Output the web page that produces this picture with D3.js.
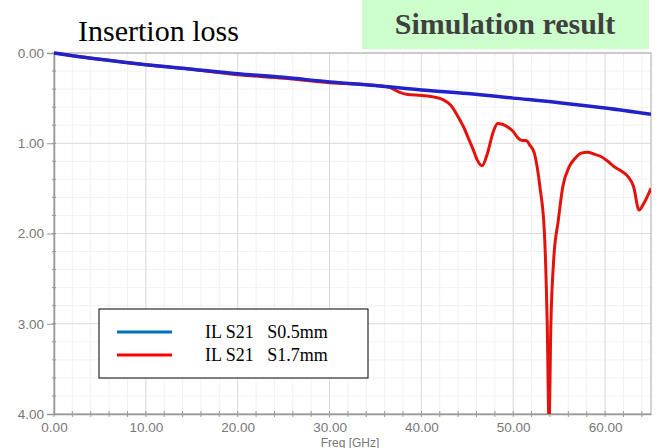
<!DOCTYPE html>
<html>
<head>
<meta charset="utf-8">
<script src="https://cdn.jsdelivr.net/npm/d3@7"></script>
<style>
  body { margin: 0; background: #fff; }
  svg { display: block; }
</style>
</head>
<body>
<svg id="chart" width="659" height="448"></svg>
<script>
// insertion loss (dB, shown as positive loss)
var freqBlue = [0, 2, 5, 10, 15, 20, 25, 30, 35, 40, 45, 50, 55, 60, 65];
var lossBlue = [0, 0.03, 0.07, 0.13, 0.18, 0.23, 0.27, 0.32, 0.36, 0.41, 0.45, 0.50, 0.55, 0.61, 0.68];

var freqRed = [0, 5, 10, 15, 20, 25, 30, 35, 36.5, 37.5, 38.5, 40, 41.5, 42.4, 43.2, 43.9, 44.6, 45.1, 45.6, 46.1, 46.6, 47.2, 47.8, 48.3, 48.8, 49.4, 50.0, 50.5, 51.0, 51.4, 51.8, 52.3, 52.9, 53.4, 53.7, 53.9, 54.1, 54.4, 54.9, 55.4, 56.1, 56.8, 57.4, 58.1, 58.8, 59.6, 60.3, 61.0, 61.8, 62.5, 63.1, 63.7, 64.2, 65];
var lossRed = [0, 0.07, 0.13, 0.18, 0.24, 0.28, 0.33, 0.36, 0.38, 0.43, 0.46, 0.47, 0.49, 0.52, 0.58, 0.69, 0.82, 0.94, 1.06, 1.19, 1.25, 1.11, 0.88, 0.78, 0.79, 0.82, 0.87, 0.94, 0.97, 0.97, 1.02, 1.11, 1.48, 2.0, 3.0, 4.1, 3.0, 2.3, 1.86, 1.48, 1.26, 1.16, 1.11, 1.10, 1.12, 1.15, 1.20, 1.26, 1.31, 1.37, 1.48, 1.74, 1.67, 1.50];

var xTicks = [0, 10, 20, 30, 40, 50, 60];
var yTicks = [0, 1, 2, 3, 4];
var legendLabels = ["IL S21   S0.5mm", "IL S21   S1.7mm"];

var svg = d3.select("#chart"),
    margin = { top: 53, right: 8, bottom: 34, left: 54 },
    width = +svg.attr("width") - margin.left - margin.right,
    height = +svg.attr("height") - margin.top - margin.bottom;

var x = d3.scaleLinear().domain([0, 65]).range([margin.left, margin.left + width]);
var y = d3.scaleLinear().domain([0, 4]).range([margin.top, margin.top + height]);

// banner
svg.append("rect").attr("x", 362).attr("y", 0).attr("width", 287).attr("height", 49).attr("fill", "#ccffcc");
svg.append("text").attr("x", 505).attr("y", 34).attr("text-anchor", "middle")
    .attr("font-family", "Liberation Serif").attr("font-weight", "bold").attr("font-size", 30)
    .attr("fill", "#404040").text("Simulation result");
svg.append("text").attr("x", 78).attr("y", 41)
    .attr("font-family", "Liberation Serif").attr("font-size", 30).attr("fill", "#000").text("Insertion loss");

// grid
var g = svg.append("g");
g.selectAll(".minx").data(d3.range(2, 65, 2)).enter().append("line")
    .attr("x1", x).attr("x2", x).attr("y1", y(0)).attr("y2", y(4))
    .attr("stroke", "#f1f1f1");
g.selectAll(".miny").data(d3.range(0.2, 4, 0.2)).enter().append("line")
    .attr("x1", x(0)).attr("x2", x(65)).attr("y1", y).attr("y2", y)
    .attr("stroke", "#f1f1f1");
g.selectAll(".majx").data(xTicks).enter().append("line")
    .attr("x1", x).attr("x2", x).attr("y1", y(0)).attr("y2", y(4))
    .attr("stroke", "#dcdcdc");
g.selectAll(".majy").data(yTicks).enter().append("line")
    .attr("x1", x(0)).attr("x2", x(65)).attr("y1", y).attr("y2", y)
    .attr("stroke", "#dcdcdc");

// frame
svg.append("rect").attr("x", x(0)).attr("y", y(0)).attr("width", width).attr("height", height)
    .attr("fill", "none").attr("stroke", "#a8a8a8");

// axes
var xAxis = svg.append("g").attr("transform", "translate(0," + y(4) + ")")
    .call(d3.axisBottom(x).tickValues(xTicks).tickFormat(d3.format(".2f")).tickSize(0).tickPadding(8));
xAxis.append("g").selectAll("line").data(d3.range(0, 65, 2)).enter().append("line")
    .attr("x1", x).attr("x2", x).attr("y1", -3).attr("y2", 3).attr("stroke", "#999");
var yAxis = svg.append("g").attr("transform", "translate(" + x(0) + ",0)")
    .call(d3.axisLeft(y).tickValues(yTicks).tickFormat(d3.format(".2f")).tickSize(7).tickPadding(3));
yAxis.append("g").selectAll("line").data(d3.range(0, 4, 0.2)).enter().append("line")
    .attr("x1", -2).attr("x2", 2).attr("y1", y).attr("y2", y).attr("stroke", "#999");
[xAxis, yAxis].forEach(function (a) {
  a.select(".domain").attr("stroke", "#999").attr("stroke-width", 1.5);
  a.selectAll(".tick line").attr("stroke", "#999");
  a.selectAll("text").attr("font-family", "Liberation Sans").attr("font-size", 13.5).attr("fill", "#777");
});
xAxis.selectAll(".tick text").attr("dy", "0.71em");

svg.append("text").attr("x", 350).attr("y", 446.5).attr("text-anchor", "middle")
    .attr("font-family", "Liberation Sans").attr("font-size", 12).attr("fill", "#777").text("Freq [GHz]");

// curves
svg.append("clipPath").attr("id", "clip").append("rect")
    .attr("x", x(0)).attr("y", y(0) - 2).attr("width", width).attr("height", height + 2);
var line = d3.line().x(function (d) { return x(d[0]); }).y(function (d) { return y(d[1]); })
    .curve(d3.curveMonotoneX);
var plot = svg.append("g").attr("clip-path", "url(#clip)");
plot.append("path").datum(d3.zip(freqRed, lossRed)).attr("d", line)
    .attr("fill", "none").attr("stroke", "#e3120b").attr("stroke-width", 3);
plot.append("path").datum(d3.zip(freqBlue, lossBlue)).attr("d", line)
    .attr("fill", "none").attr("stroke", "#2222cc").attr("stroke-width", 3.5);

// legend
var leg = svg.append("g").attr("transform", "translate(99,309)");
leg.append("rect").attr("width", 269).attr("height", 69).attr("fill", "#fff").attr("stroke", "#000");
var legColors = ["#0070c0", "#ff0000"];
legendLabels.forEach(function (t, i) {
  leg.append("line").attr("x1", 18).attr("x2", 73).attr("y1", 23 + i * 23).attr("y2", 23 + i * 23)
      .attr("stroke", legColors[i]).attr("stroke-width", 3);
  leg.append("text").attr("x", 106).attr("y", 29 + i * 23).attr("xml:space", "preserve")
      .attr("font-family", "Liberation Serif").attr("font-size", 18).attr("fill", "#000").text(t);
});
</script>
</body>
</html>
